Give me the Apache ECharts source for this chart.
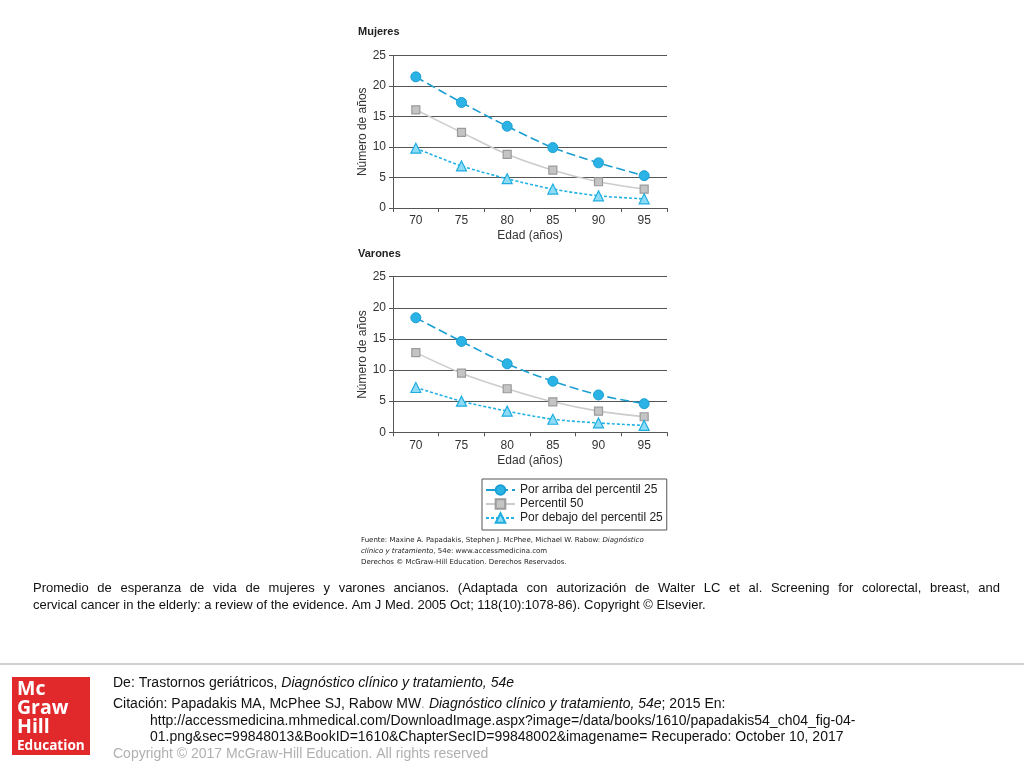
<!DOCTYPE html>
<html>
<head>
<meta charset="utf-8">
<script src="https://cdn.jsdelivr.net/npm/echarts@6/dist/echarts.min.js"></script>
<style>html,body{margin:0;padding:0;background:#fff}#c{width:1024px;height:768px}</style>
</head>
<body>
<div id="c"></div>
<script>
const ages = ['70', '75', '80', '85', '90', '95'];
const seriesNames = ['Por arriba del percentil 25', 'Percentil 50', 'Por debajo del percentil 25'];
const mujeresArriba = [21.5, 17.3, 13.4, 9.9, 7.4, 5.3];
const mujeresP50 = [16.1, 12.4, 8.8, 6.2, 4.3, 3.1];
const mujeresDebajo = [9.8, 6.9, 4.8, 3.1, 2.0, 1.5];
const varonesArriba = [18.4, 14.6, 11.0, 8.2, 6.0, 4.6];
const varonesP50 = [12.8, 9.5, 7.0, 4.9, 3.4, 2.5];
const varonesDebajo = [7.2, 5.0, 3.4, 2.1, 1.5, 1.1];
const yMin = 0, yMax = 25, yStep = 5;

const FONT = '"Liberation Sans", Arial, Helvetica, sans-serif';
const chart = echarts.init(document.getElementById('c'));

function xAxis(gi) {
  return {
    type: 'category', gridIndex: gi, data: ages, boundaryGap: true,
    name: 'Edad (años)', nameLocation: 'middle', nameGap: 22,
    nameTextStyle: { fontFamily: FONT, fontSize: 12, color: '#333' },
    axisLine: { lineStyle: { color: '#555', width: 1 } },
    axisTick: { show: true, length: 4, lineStyle: { color: '#555' } },
    axisLabel: { fontFamily: FONT, fontSize: 12, color: '#333', margin: 7 },
    splitLine: { show: false }
  };
}
function yAxis(gi) {
  return {
    type: 'value', gridIndex: gi, min: yMin, max: yMax, interval: yStep,
    name: 'Número de años', nameLocation: 'middle', nameGap: 24, nameRotate: 90,
    nameTextStyle: { fontFamily: FONT, fontSize: 12, color: '#333' },
    axisLine: { show: true, lineStyle: { color: '#555', width: 1 } },
    axisTick: { show: true, length: 4, lineStyle: { color: '#555' } },
    axisLabel: { fontFamily: FONT, fontSize: 12, color: '#333', margin: 7 },
    splitLine: { show: true, lineStyle: { color: '#555', width: 1 } }
  };
}
function mkSeries(gi, arr, p50, deb) {
  return [
    { name: seriesNames[0], type: 'line', xAxisIndex: gi, yAxisIndex: gi, data: arr, smooth: 0.3,
      symbol: 'circle', symbolSize: 10,
      lineStyle: { color: '#1b9fd3', width: 1.6, type: [9, 4] },
      itemStyle: { color: '#2bb3e6', borderColor: '#1b9fd3', borderWidth: 1 } },
    { name: seriesNames[1], type: 'line', xAxisIndex: gi, yAxisIndex: gi, data: p50, smooth: 0.3,
      symbol: 'rect', symbolSize: 8,
      lineStyle: { color: '#cccccc', width: 1.6, type: 'solid' },
      itemStyle: { color: '#c4c4c4', borderColor: '#9a9a9a', borderWidth: 1.2 } },
    { name: seriesNames[2], type: 'line', xAxisIndex: gi, yAxisIndex: gi, data: deb, smooth: 0.3,
      symbol: 'triangle', symbolSize: 10,
      lineStyle: { color: '#22b2e4', width: 1.6, type: [3, 2] },
      itemStyle: { color: '#8edbf5', borderColor: '#1fade0', borderWidth: 1.2 } }
  ];
}

const measureCtx = document.createElement('canvas').getContext('2d');
function justify(text, x, y, width, size) {
  measureCtx.font = size + 'px ' + FONT;
  const words = text.split(' ');
  const ws = words.map(w => measureCtx.measureText(w).width);
  const total = ws.reduce((a, b) => a + b, 0);
  const gap = (width - total) / (words.length - 1);
  let cx = x;
  return words.map((w, i) => {
    const el = { type: 'text', x: cx, y: y, style: { text: w, fontFamily: FONT, fontSize: size, fill: '#111', verticalAlign: 'middle' } };
    cx += ws[i] + gap;
    return el;
  });
}

const caption1 = 'Promedio de esperanza de vida de mujeres y varones ancianos. (Adaptada con autorización de Walter LC et al. Screening for colorectal, breast, and';
const caption2 = 'cervical cancer in the elderly: a review of the evidence. Am J Med. 2005 Oct; 118(10):1078-86). Copyright © Elsevier.';
const FS = 14;
const LOGO = '"Open Sans", sans-serif';

const graphics = [
  { type: 'text', x: 358, y: 32, style: { text: 'Mujeres', fontFamily: FONT, fontSize: 11, fontWeight: 'bold', fill: '#222', verticalAlign: 'middle' } },
  { type: 'text', x: 358, y: 254, style: { text: 'Varones', fontFamily: FONT, fontSize: 11, fontWeight: 'bold', fill: '#222', verticalAlign: 'middle' } },
  { type: 'text', x: 361, y: 535, style: {
      text: 'Fuente: Maxine A. Papadakis, Stephen J. McPhee, Michael W. Rabow: {i|Diagnóstico}\n{i|clínico y tratamiento}, 54e: www.accessmedicina.com\nDerechos © McGraw-Hill Education. Derechos Reservados.',
      fontFamily: '"DejaVu Sans", Verdana, sans-serif', fontSize: 7, lineHeight: 11, fill: '#222', verticalAlign: 'top',
      rich: { i: { fontStyle: 'italic', fontFamily: '"DejaVu Sans", Verdana, sans-serif', fontSize: 7, lineHeight: 11, fill: '#222' } } } },
  ...justify(caption1, 33, 588, 967, 13),
  { type: 'text', x: 33, y: 605, style: { text: caption2, fontFamily: FONT, fontSize: 13, fill: '#111', verticalAlign: 'middle' } },
  { type: 'line', shape: { x1: 0, y1: 664, x2: 1024, y2: 664 }, style: { stroke: '#cfcfcf', lineWidth: 2 } },
  { type: 'rect', shape: { x: 12, y: 677, width: 78, height: 78 }, style: { fill: '#e1282b' } },
  { type: 'text', x: 17, y: 699, style: { text: 'Mc', fontFamily: LOGO, fontWeight: 'bold', fontSize: 19.5, fill: '#fff', verticalAlign: 'bottom' } },
  { type: 'text', x: 17, y: 718, style: { text: 'Graw', fontFamily: LOGO, fontWeight: 'bold', fontSize: 19.5, fill: '#fff', verticalAlign: 'bottom' } },
  { type: 'text', x: 17, y: 737, style: { text: 'Hill', fontFamily: LOGO, fontWeight: 'bold', fontSize: 19.5, fill: '#fff', verticalAlign: 'bottom' } },
  { type: 'text', x: 17, y: 753, style: { text: 'Education', fontFamily: LOGO, fontWeight: 'bold', fontSize: 13.6, fill: '#fff', verticalAlign: 'bottom' } },
  { type: 'text', x: 113, y: 683, style: { text: 'De: Trastornos geriátricos, {i|Diagnóstico clínico y tratamiento, 54e}',
      fontFamily: FONT, fontSize: FS, fill: '#111', verticalAlign: 'middle',
      rich: { i: { fontStyle: 'italic', fontFamily: FONT, fontSize: FS, fill: '#111' } } } },
  { type: 'text', x: 113, y: 704, style: { text: 'Citación: Papadakis MA, McPhee SJ, Rabow MW{g|.} {i|Diagnóstico clínico y tratamiento, 54e}; 2015 En:',
      fontFamily: FONT, fontSize: FS, fill: '#111', verticalAlign: 'middle',
      rich: { i: { fontStyle: 'italic', fontFamily: FONT, fontSize: FS, fill: '#111' }, g: { fontFamily: FONT, fontSize: FS, fill: '#aaa' } } } },
  { type: 'text', x: 150, y: 721, style: { text: 'http://accessmedicina.mhmedical.com/DownloadImage.aspx?image=/data/books/1610/papadakis54_ch04_fig-04-',
      fontFamily: FONT, fontSize: FS, fill: '#111', verticalAlign: 'middle' } },
  { type: 'text', x: 150, y: 737, style: { text: '01.png&sec=99848013&BookID=1610&ChapterSecID=99848002&imagename= Recuperado: October 10, 2017',
      fontFamily: FONT, fontSize: FS, fill: '#111', verticalAlign: 'middle' } },
  { type: 'text', x: 113, y: 754, style: { text: 'Copyright © 2017 McGraw-Hill Education. All rights reserved',
      fontFamily: FONT, fontSize: FS, fill: '#b0b0b0', verticalAlign: 'middle' } }
];

chart.setOption({
  animation: false,
  backgroundColor: '#fff',
  grid: [
    { left: 393, width: 274, top: 55.5, height: 152.5 },
    { left: 393, width: 274, top: 276.7, height: 155.6 }
  ],
  xAxis: [xAxis(0), xAxis(1)],
  yAxis: [yAxis(0), yAxis(1)],
  legend: {
    data: seriesNames, orient: 'vertical', left: 482, top: 479,
    padding: [5, 4, 6, 3], itemGap: 2, itemWidth: 29, itemHeight: 12,
    borderColor: '#555', borderWidth: 1, backgroundColor: '#fff',
    textStyle: { fontFamily: FONT, fontSize: 12, color: '#222' }
  },
  series: [...mkSeries(0, mujeresArriba, mujeresP50, mujeresDebajo), ...mkSeries(1, varonesArriba, varonesP50, varonesDebajo)],
  graphic: graphics
});
</script>
</body>
</html>
